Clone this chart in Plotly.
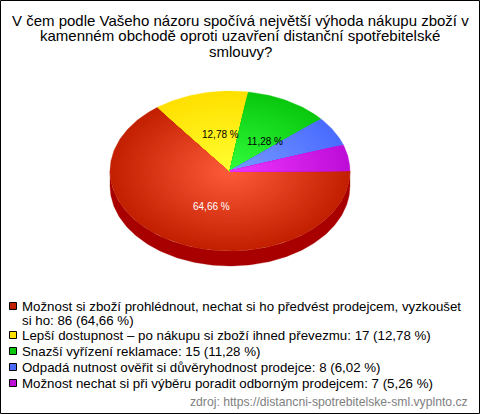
import math
import plotly.graph_objects as go

title_lines = ["V čem podle Vašeho názoru spočívá největší výhoda nákupu zboží v",
               "kamenném obchodě oproti uzavření distanční spotřebitelské",
               "smlouvy?"]
categories = ["Možnost si zboží prohlédnout, nechat si ho předvést prodejcem, vyzkoušet<br>si ho",
              "Lepší dostupnost – po nákupu si zboží ihned převezmu",
              "Snazší vyřízení reklamace",
              "Odpadá nutnost ověřit si důvěryhodnost prodejce",
              "Možnost nechat si při výběru poradit odborným prodejcem"]
counts = [86, 17, 15, 8, 7]
percent_labels = ["64,66 %", "12,78 %", "11,28 %", "6,02 %", "5,26 %"]
source = "zdroj: https://distancni-spotrebitelske-sml.vyplnto.cz"

inner_colors = [(255, 92, 60), (255, 255, 50), (50, 255, 62), (122, 156, 255), (240, 55, 255)]
outer_colors = [(194, 32, 0), (255, 224, 0), (10, 200, 14), (74, 108, 255), (190, 14, 216)]
side_colors = ["#a80000", "#b89c00", "#089008", "#3048b0", "#880a9c"]
legend_colors = ["#c22000", "#ffe000", "#0ac80e", "#4a6cff", "#be0ed8"]

CX, CY, RX, RY, DEPTH = 230, 171, 120, 80, 15
RINGS = 36
total = sum(counts)

fig = go.Figure()

def wedge(a0, a1, scale):
    n = max(2, int((a1 - a0) / 1.0))
    xs, ys = [CX], [CY]
    for i in range(n + 1):
        a = math.radians(a0 + (a1 - a0) * i / n)
        xs.append(CX + RX * scale * math.cos(a))
        ys.append(CY + RY * scale * math.sin(a))
    xs.append(CX); ys.append(CY)
    return xs, ys

def poly(xs, ys, color):
    fig.add_trace(go.Scatter(x=xs, y=ys, mode="lines", fill="toself", fillcolor=color,
                             line=dict(width=0.3, color=color), hoverinfo="skip", showlegend=False))

spans = []
start = 0.0
for c in counts:
    spans.append((start, start + 360.0 * c / total))
    start += 360.0 * c / total

for (a0, a1), col in zip(spans, side_colors):
    lo, hi = max(a0, 0), min(a1, 180)
    if hi <= lo:
        continue
    n = max(2, int(hi - lo))
    top = [math.radians(lo + (hi - lo) * i / n) for i in range(n + 1)]
    xs = [CX + RX * math.cos(t) for t in top] + [CX + RX * math.cos(t) for t in reversed(top)]
    ys = [CY + RY * math.sin(t) for t in top] + [CY + DEPTH + RY * math.sin(t) for t in reversed(top)]
    poly(xs + xs[:1], ys + ys[:1], col)

for (a0, a1), c0, c1 in zip(spans, inner_colors, outer_colors):
    for r in range(RINGS):
        f = 1 - r / RINGS
        col = "rgb(%d,%d,%d)" % tuple(round(p + (q - p) * f) for p, q in zip(c0, c1))
        xs, ys = wedge(a0, a1, f)
        poly(xs, ys, col)

ann = []
def text(x, y, s, size=13, color="#000", anchor="left"):
    ann.append(dict(x=x, y=y, xref="x", yref="y", text=s, showarrow=False, xanchor=anchor, yanchor="middle",
                    align=anchor, font=dict(family="Liberation Sans", size=size, color=color)))

for y, line in zip([20, 35, 51], title_lines):
    text(240, y, line, size=15, color="#000", anchor="center")

for (x, y), s, col in zip([(211.5, 206), (220, 134), (265, 141)], percent_labels, ["#ffffff", "#000000", "#000000"]):
    text(x, y, s, size=10, color=col, anchor="center")

legend_y = [306, 335, 351, 367, 383]
for c, n, p, y, col in zip(categories, counts, percent_labels, legend_y, legend_colors):
    lines = (f"{c}: {n} ({p})").split("<br>")
    for i, l in enumerate(lines):
        text(20, y + i * 14.5, l, size=13.3)
fig.add_trace(go.Scatter(x=[13] * 5, y=legend_y, mode="markers", hoverinfo="skip", showlegend=False,
                         marker=dict(symbol="square", size=7, color=legend_colors, line=dict(color="#000", width=1))))

text(470, 402, source, size=12.2, color="#808080", anchor="right")

fig.update_layout(width=480, height=414, margin=dict(l=0, r=0, t=0, b=0), autosize=False,
                  paper_bgcolor="white", plot_bgcolor="white", annotations=ann,
                  xaxis=dict(range=[0, 480], visible=False, fixedrange=True),
                  yaxis=dict(range=[414, 0], visible=False, fixedrange=True),
                  shapes=[dict(type="rect", xref="x", yref="y", x0=0.5, x1=479.5, y0=0.5, y1=413.5,
                               line=dict(color="#000", width=1))])
fig.write_html("out.html", config=dict(displayModeBar=False),
               post_script="document.body.style.margin='0';document.body.style.overflow='hidden';")
